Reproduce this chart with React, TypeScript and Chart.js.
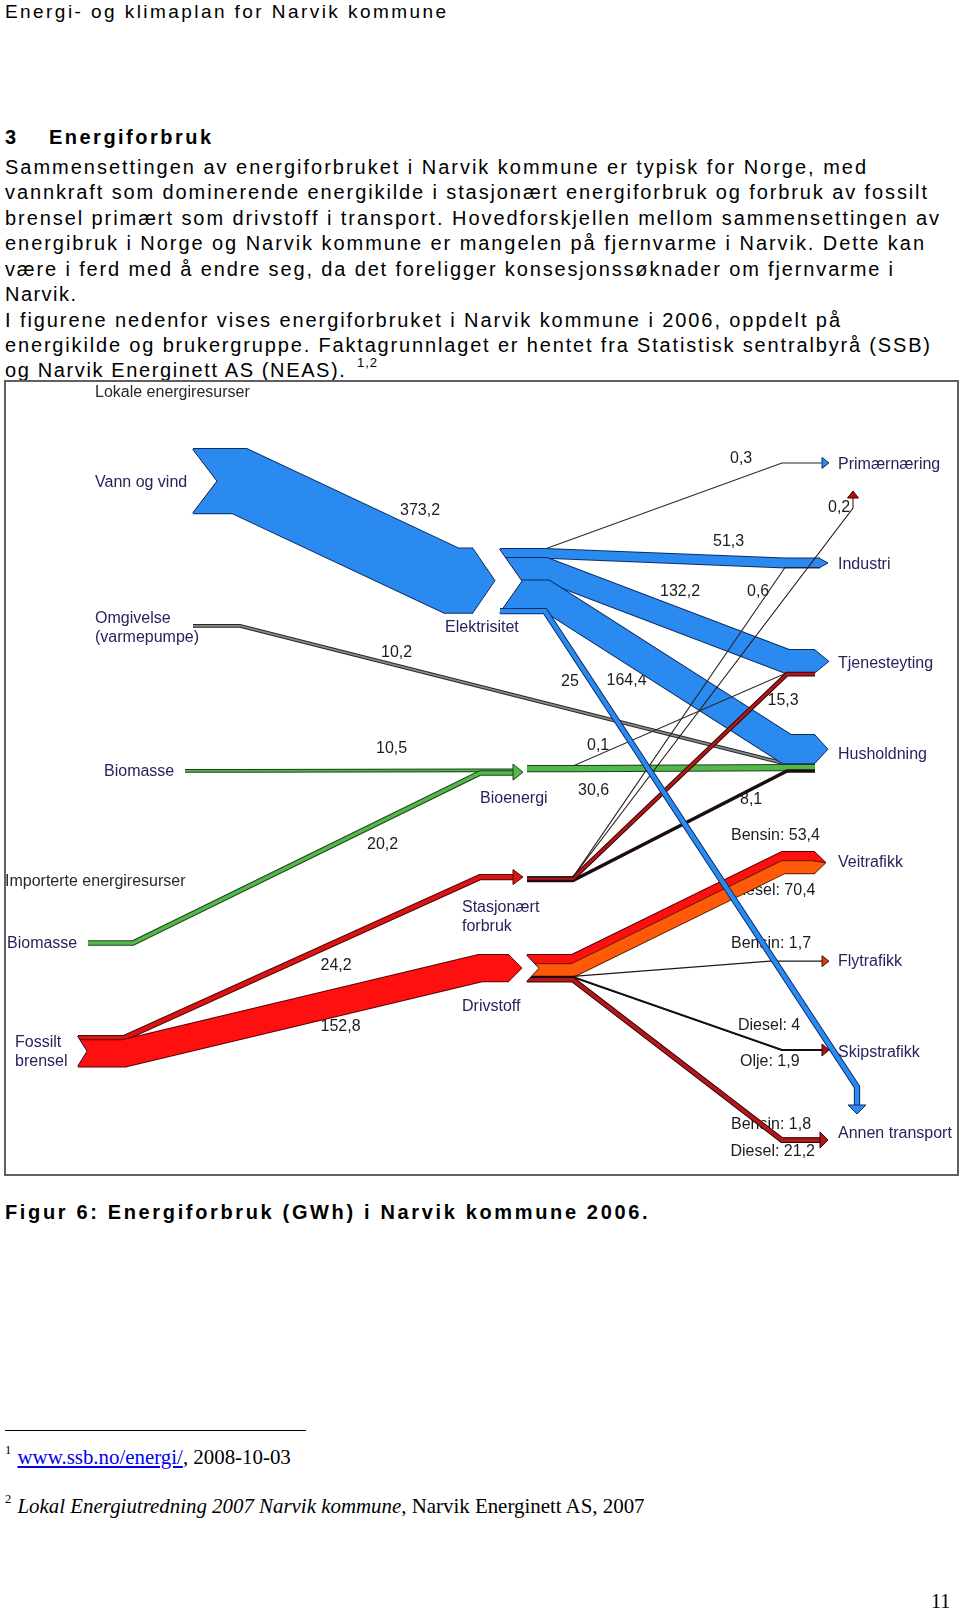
import React, { useEffect, useRef } from 'react';
import { Chart, registerables } from 'chart.js';

Chart.register(...registerables);

/* ====================== DATA ====================== */
const sourceNodes = ['Vann og vind', 'Omgivelse', 'Biomasse lokal', 'Biomasse import', 'Fossilt brensel'];
const carrierNodes = ['Elektrisitet', 'Bioenergi', 'Stasjonært forbruk', 'Drivstoff'];
const userNodes = ['Primærnæring', 'Industri', 'Tjenesteyting', 'Husholdning', 'Veitrafikk', 'Flytrafikk', 'Skipstrafikk', 'Annen transport'];
const groupTitles = ['Lokale energiresurser', 'Importerte energiresurser'];

const flowFrom = [
  'Vann og vind', 'Omgivelse', 'Biomasse lokal', 'Biomasse import', 'Fossilt brensel', 'Fossilt brensel',
  'Elektrisitet', 'Elektrisitet', 'Elektrisitet', 'Elektrisitet', 'Elektrisitet',
  'Bioenergi', 'Bioenergi',
  'Stasjonært forbruk', 'Stasjonært forbruk', 'Stasjonært forbruk', 'Stasjonært forbruk',
  'Drivstoff', 'Drivstoff', 'Drivstoff', 'Drivstoff', 'Drivstoff', 'Drivstoff', 'Drivstoff',
];
const flowTo = [
  'Elektrisitet', 'Husholdning', 'Bioenergi', 'Bioenergi', 'Stasjonært forbruk', 'Drivstoff',
  'Primærnæring', 'Industri', 'Tjenesteyting', 'Husholdning', 'Annen transport',
  'Tjenesteyting', 'Husholdning',
  'Primærnæring', 'Industri', 'Tjenesteyting', 'Husholdning',
  'Veitrafikk', 'Veitrafikk', 'Flytrafikk', 'Skipstrafikk', 'Skipstrafikk', 'Annen transport', 'Annen transport',
];
const flowValues = [
  373.2, 10.2, 10.5, 20.2, 24.2, 152.8,
  0.3, 51.3, 132.2, 164.4, 25,
  0.1, 30.6,
  0.2, 0.6, 15.3, 8.1,
  53.4, 70.4, 1.7, 4, 1.9, 1.8, 21.2,
];
const flowFuel = [
  '', '', '', '', '', '',
  '', '', '', '', '',
  '', '',
  '', '', '', '',
  'Bensin', 'Diesel', 'Bensin', 'Diesel', 'Olje', 'Bensin', 'Diesel',
];

/* ====================== PAGE TEXT ====================== */
const headerText = 'Energi- og klimaplan for Narvik kommune';
const headingNumber = '3';
const headingText = 'Energiforbruk';
const paragraphLines = [
  'Sammensettingen av energiforbruket i Narvik kommune er typisk for Norge, med',
  'vannkraft som dominerende energikilde i stasjonært energiforbruk og forbruk av fossilt',
  'brensel primært som drivstoff i transport. Hovedforskjellen mellom sammensettingen av',
  'energibruk i Norge og Narvik kommune er mangelen på fjernvarme i Narvik. Dette kan',
  'være i ferd med å endre seg, da det foreligger konsesjonssøknader om fjernvarme i',
  'Narvik.',
  'I figurene nedenfor vises energiforbruket i Narvik kommune i 2006, oppdelt på',
  'energikilde og brukergruppe. Faktagrunnlaget er hentet fra Statistisk sentralbyrå (SSB)',
  'og Narvik Energinett AS (NEAS).',
];
const paragraphSup = '1,2';
const captionText = 'Figur 6: Energiforbruk (GWh) i Narvik kommune 2006.';
const footnote1Link = 'www.ssb.no/energi/';
const footnote1Rest = ', 2008-10-03';
const footnote2Title = 'Lokal Energiutredning 2007 Narvik kommune';
const footnote2Rest = ', Narvik Energinett AS, 2007';
const pageNumber = '11';

/* ====================== LAYOUT & STYLE ====================== */
const SANS = "'Liberation Sans', Arial, Helvetica, sans-serif";
const SERIF = "'Liberation Serif', 'Times New Roman', serif";
const CHART_FONT = "16px 'Liberation Sans', Arial, sans-serif";
const NODE_COLOR = '#25255c';
const TITLE_COLOR = '#2a2a22';
const VALUE_COLOR = '#1c1c1c';

// chart box in page pixels (scales map 1:1)
const X_MIN = 5, X_MAX = 958, Y_MIN = 381, Y_MAX = 1175;
const PX_PER_GWH = 0.172;
const TIP_MIN = 8;

const BLUE = '#2a8af0', BLUE_EDGE = '#0c2d68';
const GREEN = '#52b84a', GREEN_EDGE = '#1d401a';
const RED = '#ff1010', RED_EDGE = '#5a0000';
const RED2 = '#d81515';
const ORANGE = '#ff5a0a', ORANGE_EDGE = '#5a2000';
const DARKRED = '#b0181c', DARKRED_EDGE = '#3a0000';
const GRAY = '#8a8a8a', GRAY_EDGE = '#262626';
const THIN = '#262626';
const NOTCH_EDGE = '#1a1a3a';

const flowFill = [
  BLUE, GRAY, GREEN, GREEN, RED2, RED,
  BLUE, BLUE, BLUE, BLUE, BLUE,
  THIN, GREEN,
  THIN, THIN, DARKRED, '#2a0a0a',
  RED, ORANGE, THIN, THIN, THIN, DARKRED, DARKRED,
];
const flowEdge = [
  BLUE_EDGE, GRAY_EDGE, GREEN_EDGE, GREEN_EDGE, RED_EDGE, RED_EDGE,
  THIN, BLUE_EDGE, BLUE_EDGE, BLUE_EDGE, BLUE_EDGE,
  THIN, GREEN_EDGE,
  '#2a1010', THIN, DARKRED_EDGE, '#111111',
  RED_EDGE, ORANGE_EDGE, '#1a1a1a', '#111111', '#111111', '#5a0a0a', DARKRED_EDGE,
];

type Out = { x: number; top: number; bend: number; notch?: number };
type Arrow = { fill: string; edge: string; half: number; len: number };
type In = { x: number; top?: number; bend: number; dir?: 'up' | 'down'; end?: number; tip?: number; arrow?: Arrow };

const outPort: Record<string, Out> = {
  'Vann og vind': { x: 193, top: 449, bend: 239.5, notch: 24 },
  'Omgivelse': { x: 193, top: 625.1, bend: 240 },
  'Biomasse lokal': { x: 185, top: 770, bend: 240 },
  'Biomasse import': { x: 88, top: 941.3, bend: 133 },
  'Fossilt brensel': { x: 78, top: 1036, bend: 124, notch: 9 },
  'Elektrisitet': { x: 500, top: 549, bend: 545, notch: 22 },
  'Bioenergi': { x: 527, top: 766, bend: 573 },
  'Stasjonært forbruk': { x: 527, top: 877, bend: 573 },
  'Drivstoff': { x: 527, top: 955, bend: 573, notch: 12 },
};

const inPort: Record<string, In> = {
  'Elektrisitet': { x: 473, top: 548.5, bend: 451.5, tip: 22 },
  'Bioenergi': { x: 513, top: 769.5, bend: 480, arrow: { fill: GREEN, edge: GREEN_EDGE, half: 8, len: 10 } },
  'Stasjonært forbruk': { x: 513, top: 875, bend: 480, arrow: { fill: RED2, edge: RED_EDGE, half: 7.5, len: 10 } },
  'Drivstoff': { x: 509, top: 955, bend: 480, tip: 13 },
  'Primærnæring': { x: 822, top: 462.9, bend: 782, arrow: { fill: BLUE, edge: BLUE_EDGE, half: 5.5, len: 7 } },
  'Primærnæring/opp': { dir: 'up', x: 853, bend: 508, end: 498, arrow: { fill: '#b01010', edge: '#400000', half: 5.5, len: 7 } },
  'Industri': { x: 820, top: 558.6, bend: 785, tip: 8 },
  'Tjenesteyting': { x: 815, top: 650, bend: 787, tip: 14 },
  'Husholdning': { x: 815, top: 735, bend: 787, tip: 13 },
  'Veitrafikk': { x: 815, top: 852, bend: 783, tip: 11 },
  'Flytrafikk': { x: 822, top: 961, bend: 770, arrow: { fill: '#d2400e', edge: '#4a1500', half: 5.5, len: 7 } },
  'Skipstrafikk': { x: 822, top: 1049.5, bend: 782, arrow: { fill: '#a81212', edge: '#3a0000', half: 6, len: 7 } },
  'Annen transport': { x: 820, top: 1138, bend: 782, arrow: { fill: DARKRED, edge: DARKRED_EDGE, half: 8, len: 8 } },
  'Annen transport/ned': { dir: 'down', x: 857, bend: 1087, end: 1105, arrow: { fill: BLUE, edge: BLUE_EDGE, half: 9, len: 9 } },
};
const verticalPort: Record<string, string> = {
  'Stasjonært forbruk>Primærnæring': 'Primærnæring/opp',
  'Elektrisitet>Annen transport': 'Annen transport/ned',
};

const nodeLabelLines: Record<string, string[]> = {
  'Omgivelse': ['Omgivelse', '(varmepumpe)'],
  'Biomasse lokal': ['Biomasse'],
  'Biomasse import': ['Biomasse'],
  'Fossilt brensel': ['Fossilt', 'brensel'],
  'Stasjonært forbruk': ['Stasjonært', 'forbruk'],
};
const LABEL_LINE_GAP = 19;
const groupTitleAt: [number, number][] = [[95, 393], [5, 882]];
const nodeLabelAt: Record<string, [number, number]> = {
  'Vann og vind': [95, 483], 'Omgivelse': [95, 619], 'Biomasse lokal': [104, 772], 'Biomasse import': [7, 944],
  'Fossilt brensel': [15, 1043],
  'Elektrisitet': [445, 628], 'Bioenergi': [480, 799], 'Stasjonært forbruk': [462, 908], 'Drivstoff': [462, 1007],
  'Primærnæring': [838, 465], 'Industri': [838, 564.5], 'Tjenesteyting': [838, 664], 'Husholdning': [838, 754.5],
  'Veitrafikk': [838, 862.5], 'Flytrafikk': [838, 962], 'Skipstrafikk': [838, 1052.5], 'Annen transport': [838, 1134],
};
const flowLabelAt: [number, number][] = [
  [400, 510.5], [381, 652.6], [376, 749], [367, 845], [320.5, 966], [320.5, 1027],
  [730, 458.5], [713, 541.6], [660, 592], [606.5, 681], [561, 682],
  [587, 745.5], [578, 790.5],
  [828, 508], [747, 592], [767.5, 700.5], [740, 800],
  [731, 836], [731, 890.5], [731, 944], [738, 1025.5], [740, 1062], [731, 1124.5], [730.5, 1152],
];

/* ====================== CHART BUILD ====================== */
const range = (n: number) => Array.from({ length: n }, (_, i) => i);
const fmt = (v: number) => String(v).replace('.', ',');

function lineDS(points: any[], color: string, width: number) {
  return {
    type: 'line', data: points, borderColor: color, borderWidth: width,
    pointRadius: 0, pointHoverRadius: 0, pointHitRadius: 0,
    fill: false, tension: 0, borderJoinStyle: 'miter', borderCapStyle: 'butt', spanGaps: true,
  };
}
function polyDS(points: any[], fill: string, edge: string, width: number) {
  return { ...lineDS(points, edge, width), fill: 'shape', backgroundColor: fill };
}

function buildDatasets() {
  const n = flowValues.length;
  const w = flowValues.map((v) => v * PX_PER_GWH);
  const portKey = (i: number) => verticalPort[`${flowFrom[i]}>${flowTo[i]}`] ?? flowTo[i];
  const portSortY = (k: string) => (inPort[k].top ?? inPort[k].bend);
  const sy: number[] = new Array(n).fill(0);
  const ty: number[] = new Array(n).fill(0);

  for (const s of Object.keys(outPort)) {
    const idx = range(n).filter((i) => flowFrom[i] === s)
      .sort((a, b) => portSortY(portKey(a)) - portSortY(portKey(b)) || a - b);
    let c = outPort[s].top;
    for (const i of idx) { sy[i] = c + w[i] / 2; c += w[i]; }
  }
  for (const k of Object.keys(inPort)) {
    const p = inPort[k];
    if (p.dir) continue;
    const idx = range(n).filter((i) => portKey(i) === k)
      .sort((a, b) => outPort[flowFrom[a]].top - outPort[flowFrom[b]].top || a - b);
    let c = p.top as number;
    for (const i of idx) { ty[i] = c + w[i] / 2; c += w[i]; }
  }

  const path = (i: number) => {
    const o = outPort[flowFrom[i]];
    const p = inPort[portKey(i)];
    const start = [{ x: o.x, y: sy[i] }, { x: o.bend, y: sy[i] }];
    if (p.dir) return [...start, { x: p.x, y: p.bend }, { x: p.x, y: p.end as number }];
    return [...start, { x: p.bend, y: ty[i] }, { x: p.x, y: ty[i] }];
  };

  const items: any[] = [];
  const addFlow = (i: number) => {
    const pts = path(i);
    if (w[i] < 1.2) {
      items.push(lineDS(pts, flowEdge[i], Math.max(1, w[i] + 1)));
    } else {
      items.push(lineDS(pts, flowEdge[i], w[i] + 2));
      items.push(lineDS(pts, flowFill[i], w[i]));
    }
    const k = portKey(i);
    const p = inPort[k];
    if (p.tip && w[i] >= TIP_MIN) {
      const tipped = range(n).filter((j) => portKey(j) === k && w[j] >= TIP_MIN);
      const top = Math.min(...tipped.map((j) => ty[j] - w[j] / 2));
      const bot = Math.max(...tipped.map((j) => ty[j] + w[j] / 2));
      const ax = p.x + p.tip, ay = (top + bot) / 2;
      const t = ty[i] - w[i] / 2, b = ty[i] + w[i] / 2;
      items.push(polyDS([
        { x: p.x - 1, y: t }, { x: p.x, y: t }, { x: ax, y: ay }, { x: p.x, y: b }, { x: p.x - 1, y: b },
      ], flowFill[i], flowEdge[i], 1));
    }
  };
  const flowsOf = (s: string, vertical?: boolean, reverse?: boolean) => {
    const idx = range(n).filter((i) => flowFrom[i] === s && (vertical === undefined || !!inPort[portKey(i)].dir === vertical));
    (reverse ? idx.reverse() : idx).forEach(addFlow);
  };
  const addNotch = (s: string) => {
    const o = outPort[s];
    const total = range(n).filter((i) => flowFrom[i] === s).reduce((a, i) => a + w[i], 0);
    const t = o.top, b = o.top + total, m = (t + b) / 2;
    items.push(polyDS([{ x: o.x - 0.5, y: t }, { x: o.x + (o.notch as number), y: m }, { x: o.x - 0.5, y: b }],
      '#ffffff', NOTCH_EDGE, 1));
  };
  const addArrow = (k: string) => {
    const p = inPort[k];
    const a = p.arrow as Arrow;
    let pts: any[];
    if (p.dir === 'up') {
      const e = p.end as number;
      pts = [{ x: p.x - a.half, y: e }, { x: p.x, y: e - a.len }, { x: p.x + a.half, y: e }, { x: p.x - a.half, y: e }];
    } else if (p.dir === 'down') {
      const e = p.end as number;
      pts = [{ x: p.x - a.half, y: e }, { x: p.x, y: e + a.len }, { x: p.x + a.half, y: e }, { x: p.x - a.half, y: e }];
    } else {
      const total = range(n).filter((i) => portKey(i) === k).reduce((s, i) => s + w[i], 0);
      const cy = (p.top as number) + total / 2;
      pts = [{ x: p.x, y: cy - a.half }, { x: p.x + a.len, y: cy }, { x: p.x, y: cy + a.half }, { x: p.x, y: cy - a.half }];
    }
    items.push(polyDS(pts, a.fill, a.edge, 1));
  };

  // painting order: bottom first
  flowsOf('Omgivelse');
  flowsOf('Elektrisitet', false);
  addNotch('Elektrisitet');
  flowsOf('Vann og vind');
  addNotch('Vann og vind');
  flowsOf('Bioenergi');
  flowsOf('Stasjonært forbruk', undefined, true);
  flowsOf('Drivstoff');
  addNotch('Drivstoff');
  flowsOf('Biomasse lokal');
  flowsOf('Biomasse import');
  flowsOf('Fossilt brensel');
  addNotch('Fossilt brensel');
  Object.keys(inPort).filter((k) => inPort[k].arrow && k !== 'Annen transport/ned').forEach(addArrow);
  flowsOf('Elektrisitet', true);
  addArrow('Annen transport/ned');

  // Chart.js paints the first dataset on top, so reverse
  return items.reverse();
}

const labelPlugin = {
  id: 'flowLabels',
  beforeDatasetsDraw(chart: any) {
    const { ctx } = chart;
    const xs = chart.scales.x, ys = chart.scales.y;
    ctx.save();
    ctx.textBaseline = 'middle';
    ctx.textAlign = 'left';
    ctx.font = CHART_FONT;
    const put = (t: string, x: number, y: number, color: string) => {
      ctx.fillStyle = color;
      ctx.fillText(t, xs.getPixelForValue(x), ys.getPixelForValue(y));
    };
    groupTitles.forEach((t, i) => put(t, groupTitleAt[i][0], groupTitleAt[i][1], TITLE_COLOR));
    [...sourceNodes, ...carrierNodes, ...userNodes].forEach((id) => {
      const lines = nodeLabelLines[id] ?? [id];
      const [x, y] = nodeLabelAt[id];
      lines.forEach((l, k) => put(l, x, y + k * LABEL_LINE_GAP, NODE_COLOR));
    });
    flowValues.forEach((v, i) => {
      const txt = (flowFuel[i] ? flowFuel[i] + ': ' : '') + fmt(v);
      put(txt, flowLabelAt[i][0], flowLabelAt[i][1], VALUE_COLOR);
    });
    ctx.restore();
  },
};

/* ====================== TEXT HELPERS ====================== */
let measureCtx: CanvasRenderingContext2D | null = null;
function spacingFor(text: string, font: string, target: number) {
  if (!measureCtx) measureCtx = document.createElement('canvas').getContext('2d');
  if (!measureCtx) return 0;
  measureCtx.font = font;
  const wdt = measureCtx.measureText(text).width;
  const n = Array.from(text).length;
  return n > 1 ? (target - wdt) / (n - 1) : 0;
}

function Line(props: { text: string; x: number; base: number; right?: number; size: number; bold?: boolean; color?: string }) {
  const { text, x, base, right, size, bold, color = '#000' } = props;
  const weight = bold ? 'bold' : 'normal';
  const ls = right != null ? spacingFor(text, `${weight} ${size}px ${SANS}`, right - x) : 0;
  return (
    <div style={{
      position: 'absolute', left: x, top: base - 0.8465 * size, fontFamily: SANS, fontSize: size,
      fontWeight: weight as any, lineHeight: `${size}px`, letterSpacing: ls, whiteSpace: 'nowrap', color,
    }}>{text}</div>
  );
}

const PARA_BASE = 173.9;
const PARA_STEP = 25.44;
const paraRight = [866, 927, 939, 924, 893, 76, 840, 930, 346];

export default function App() {
  const canvasRef = useRef<HTMLCanvasElement | null>(null);

  useEffect(() => {
    if (!canvasRef.current) return;
    const chart = new Chart(canvasRef.current, {
      type: 'line',
      data: { datasets: buildDatasets() as any },
      options: {
        animation: false,
        responsive: false,
        maintainAspectRatio: false,
        devicePixelRatio: 1,
        events: [],
        layout: { padding: 0 },
        scales: {
          x: { type: 'linear', min: X_MIN, max: X_MAX, display: false },
          y: { type: 'linear', min: Y_MIN, max: Y_MAX, reverse: true, display: false },
        },
        plugins: { legend: { display: false }, tooltip: { enabled: false } },
      } as any,
      plugins: [labelPlugin as any],
    });
    return () => chart.destroy();
  }, []);

  return (
    <div style={{ position: 'absolute', left: 0, top: 0, width: 960, height: 1612, background: '#fff', overflow: 'hidden' }}>
      <Line text={headerText} x={5} base={18.5} right={446} size={19} />
      <Line text={headingNumber} x={5} base={144} size={20} bold />
      <Line text={headingText} x={49} base={144} right={211} size={20} bold />
      {paragraphLines.map((t, i) => (
        <Line key={i} text={t} x={5} base={PARA_BASE + i * PARA_STEP} right={paraRight[i]} size={20} />
      ))}
      <div style={{ position: 'absolute', left: 357, top: PARA_BASE + 8 * PARA_STEP - 21, fontFamily: SANS, fontSize: 13, lineHeight: '13px', letterSpacing: 1, whiteSpace: 'nowrap' }}>{paragraphSup}</div>

      <canvas ref={canvasRef} width={953} height={794}
        style={{ position: 'absolute', left: X_MIN, top: Y_MIN, width: 953, height: 794 }} />
      <div style={{ position: 'absolute', left: 4, top: 380, width: 955, height: 796, border: '2px solid #606060', boxSizing: 'border-box', pointerEvents: 'none' }} />

      <Line text={captionText} x={5} base={1218.5} right={647.5} size={20} bold />

      <div style={{ position: 'absolute', left: 5, top: 1430, width: 301, height: 1, background: '#000' }} />
      <div style={{ position: 'absolute', left: 5, top: 1454 - 0.8375 * 12.5, fontFamily: SERIF, fontSize: 12.5, lineHeight: '12.5px' }}>1</div>
      <div style={{ position: 'absolute', left: 17.5, top: 1464.5 - 0.8375 * 20.9, fontFamily: SERIF, fontSize: 20.9, lineHeight: '20.9px', whiteSpace: 'nowrap' }}>
        <span style={{ color: '#0000ee', textDecoration: 'underline' }}>{footnote1Link}</span>{footnote1Rest}
      </div>
      <div style={{ position: 'absolute', left: 5, top: 1503 - 0.8375 * 12.5, fontFamily: SERIF, fontSize: 12.5, lineHeight: '12.5px' }}>2</div>
      <div style={{ position: 'absolute', left: 17.5, top: 1514 - 0.8375 * 20.9, fontFamily: SERIF, fontSize: 20.9, lineHeight: '20.9px', whiteSpace: 'nowrap' }}>
        <i>{footnote2Title}</i>{footnote2Rest}
      </div>
      <div style={{ position: 'absolute', left: 931, top: 1608 - 0.8375 * 20, fontFamily: SERIF, fontSize: 20, lineHeight: '20px' }}>{pageNumber}</div>
    </div>
  );
}
